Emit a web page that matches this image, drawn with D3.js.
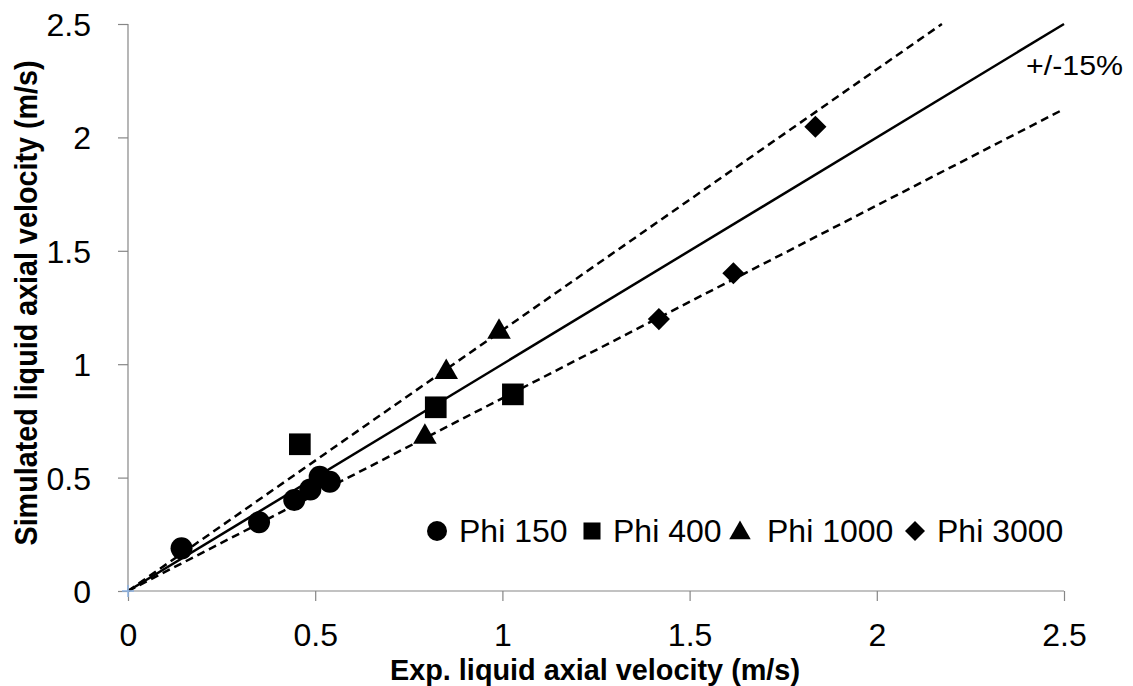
<!DOCTYPE html>
<html><head><meta charset="utf-8">
<script src="https://cdn.jsdelivr.net/npm/d3@7/dist/d3.min.js"></script>
<style>body{margin:0;background:#fff}svg{display:block}</style>
</head><body><svg id="c" width="1133" height="686"></svg>
<script>
const xTicks = [0, 0.5, 1, 1.5, 2, 2.5];
const yTicks = [0, 0.5, 1, 1.5, 2, 2.5];
const seriesNames = ["Phi 150", "Phi 400", "Phi 1000", "Phi 3000"];
const seriesShapes = ["circle", "square", "triangle", "diamond"];
const phi150X = [0.143, 0.350, 0.444, 0.487, 0.512, 0.539];
const phi150Y = [0.188, 0.303, 0.401, 0.448, 0.504, 0.482];
const phi400X = [0.459, 0.822, 1.028];
const phi400Y = [0.647, 0.810, 0.867];
const phi1000X = [0.793, 0.850, 0.991];
const phi1000Y = [0.688, 0.974, 1.151];
const phi3000X = [1.418, 1.617, 1.836];
const phi3000Y = [1.199, 1.401, 2.047];
const refSlopes = [1.0, 1.15, 0.85];
const refLabel = "+/-15%";
const xTitle = "Exp. liquid axial velocity (m/s)";
const yTitle = "Simulated liquid axial velocity (m/s)";

const svg = d3.select("#c");
const font = "'Liberation Sans', Arial, sans-serif";
const x = d3.scaleLinear().domain([0, 2.5]).range([128, 1064]);
const y = d3.scaleLinear().domain([0, 2.5]).range([591, 24]);
const axisColor = "#868686";

// reference lines
const lineG = svg.append("g");
refSlopes.forEach((s, i) => {
  const xEnd = Math.min(2.5, 2.5 / s);
  lineG.append("line")
    .attr("x1", x(0)).attr("y1", y(0))
    .attr("x2", x(xEnd)).attr("y2", y(s * xEnd))
    .attr("stroke", "#000").attr("stroke-width", 2.5)
    .attr("stroke-dasharray", i === 0 ? null : "8,5");
});

// axes
const xAxis = svg.append("g").attr("transform", `translate(0,${y(0)})`)
  .call(d3.axisBottom(x).tickValues(xTicks).tickSize(10).tickFormat(d3.format("")));
const yAxis = svg.append("g").attr("transform", `translate(${x(0)},0)`)
  .call(d3.axisLeft(y).tickValues(yTicks).tickSize(10).tickFormat(d3.format("")));
[xAxis, yAxis].forEach(a => {
  a.selectAll("path,line").attr("stroke", axisColor).attr("stroke-width", 1.2);
  a.select(".domain").attr("d", null);
  a.selectAll("text").attr("font-family", font).attr("font-size", 32).attr("fill", "#000");
});
xAxis.append("line").attr("x1", x(0)).attr("x2", x(2.5)).attr("stroke", axisColor).attr("stroke-width", 1.2);
yAxis.append("line").attr("y1", y(0)).attr("y2", y(2.5)).attr("stroke", axisColor).attr("stroke-width", 1.2);
xAxis.selectAll(".tick text").attr("dy", null).attr("y", 55);
yAxis.selectAll(".tick text").attr("x", -37).attr("dy", "0.36em");

// origin cross (light blue)
svg.append("path").attr("d", `M${x(0)-6},${y(0)}H${x(0)+6}M${x(0)},${y(0)-6}V${y(0)+6}`)
  .attr("stroke", "#8db3e2").attr("stroke-width", 1.5);

// markers
const sym = {
  circle: d3.symbolCircle, square: d3.symbolSquare,
  triangle: d3.symbolTriangle, diamond: d3.symbolSquare
};
const rot = s => s === "diamond" ? " rotate(45)" : "";
const dy = s => s === "triangle" ? 2 : 0;
const sizes = { circle: 380, square: 470, triangle: 240, diamond: 245 };
const sets = [[phi150X, phi150Y], [phi400X, phi400Y], [phi1000X, phi1000Y], [phi3000X, phi3000Y]];
sets.forEach(([xs, ys], i) => {
  const shape = seriesShapes[i];
  svg.append("g").selectAll("path").data(xs.map((v, j) => [v, ys[j]])).join("path")
    .attr("transform", d => `translate(${x(d[0])},${y(d[1]) + dy(shape)})${rot(shape)}`)
    .attr("d", d3.symbol().type(sym[shape]).size(sizes[shape]))
    .attr("fill", "#000");
});

// legend
const legendMarkX = [437, 592, 740, 915];
const legendTextX = [459, 613, 767, 937];
const legendSizes = { circle: 314, square: 290, triangle: 200, diamond: 200 };
const lg = svg.append("g");
seriesNames.forEach((n, i) => {
  const shape = seriesShapes[i];
  lg.append("path").attr("transform", `translate(${legendMarkX[i]},${531 + dy(shape)})${rot(shape)}`)
    .attr("d", d3.symbol().type(sym[shape]).size(legendSizes[shape])).attr("fill", "#000");
  lg.append("text").attr("x", legendTextX[i]).attr("y", 542)
    .attr("font-family", font).attr("font-size", 32).text(n);
});

// ref label
svg.append("text").attr("x", 1026).attr("y", 75).attr("font-family", font).attr("font-size", 28)
  .attr("textLength", 97).attr("lengthAdjust", "spacingAndGlyphs").text(refLabel);

// titles
svg.append("text").attr("x", 595).attr("y", 680).attr("text-anchor", "middle")
  .attr("font-family", font).attr("font-weight", "bold").attr("font-size", 29)
  .attr("textLength", 410).attr("lengthAdjust", "spacingAndGlyphs").text(xTitle);
svg.append("text").attr("transform", "translate(37,303) rotate(-90)").attr("text-anchor", "middle")
  .attr("font-family", font).attr("font-weight", "bold").attr("font-size", 31)
  .attr("textLength", 485).attr("lengthAdjust", "spacingAndGlyphs").text(yTitle);
</script></body></html>
